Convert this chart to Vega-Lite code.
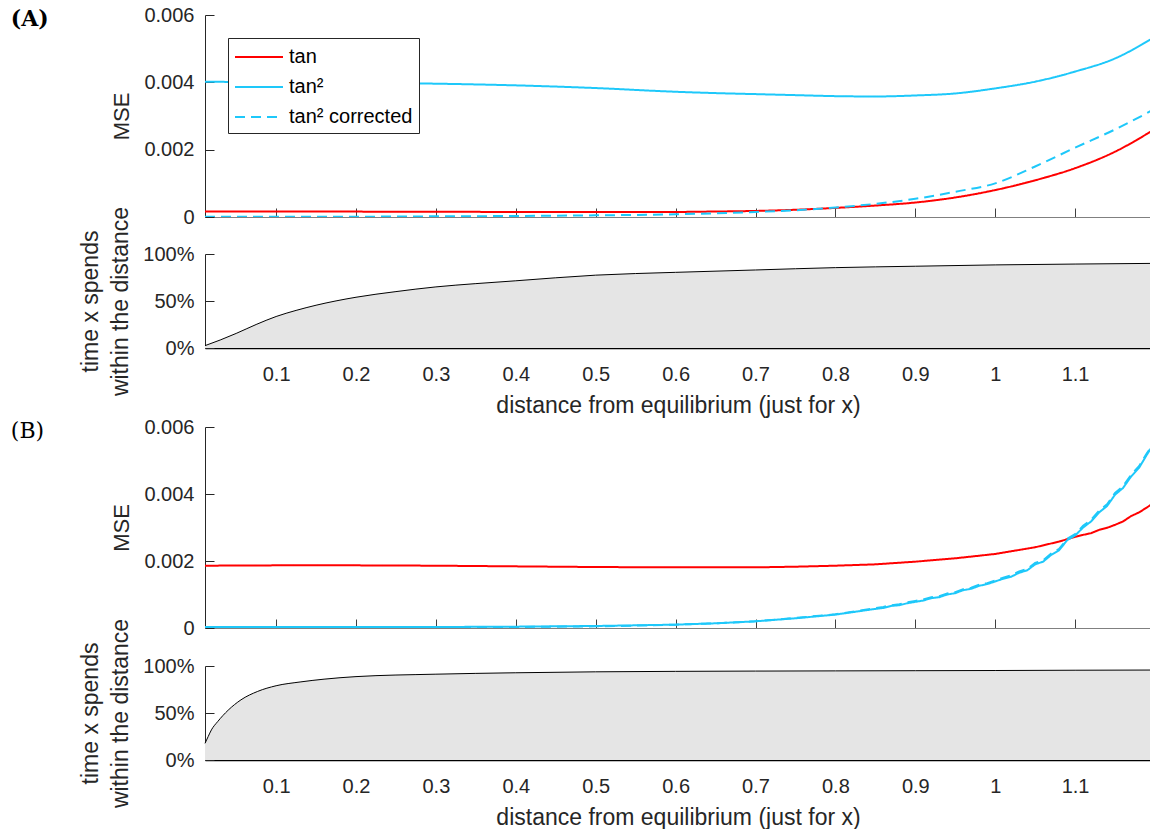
{
  "$schema": "https://vega.github.io/schema/vega-lite/v6.json",
  "background": "white",
  "padding": {"left": 10, "top": 5, "right": 0, "bottom": 0},
  "spacing": 0,
  "config": {
    "font": "Liberation Sans",
    "view": {"stroke": null},
    "axis": {
      "labelFont": "Liberation Sans", "labelFontSize": 20, "labelColor": "#262626",
      "titleFont": "Liberation Sans", "titleFontSize": 23, "titleColor": "#262626", "titleFontWeight": "normal",
      "grid": false, "tickSize": -9, "tickColor": "#262626", "domainColor": "#262626", "domainWidth": 1
    },
    "legend": {
      "orient": "top-left", "offset": 23, "title": null,
      "labelFont": "Liberation Sans", "labelFontSize": 20, "labelColor": "#000000",
      "symbolType": "M-1,0H3", "symbolSize": 576, "symbolStrokeWidth": 2,
      "strokeColor": "#262626", "fillColor": "white", "padding": 6, "rowPadding": 7, "labelOffset": 29, "cornerRadius": 0
    }
  },
  "datasets": {
    "mseA": [
      {"x": 0.011, "s": "tan", "v": 0.000165}, {"x": 0.05, "s": "tan", "v": 0.000165}, {"x": 0.1, "s": "tan", "v": 0.000163}, {"x": 0.2, "s": "tan", "v": 0.00016}, {"x": 0.3, "s": "tan", "v": 0.000155}, {"x": 0.4, "s": "tan", "v": 0.00015}, {"x": 0.5, "s": "tan", "v": 0.000145}, {"x": 0.6, "s": "tan", "v": 0.00015}, {"x": 0.65, "s": "tan", "v": 0.000163}, {"x": 0.7, "s": "tan", "v": 0.00018}, {"x": 0.75, "s": "tan", "v": 0.000215}, {"x": 0.8, "s": "tan", "v": 0.00027}, {"x": 0.85, "s": "tan", "v": 0.00034}, {"x": 0.9, "s": "tan", "v": 0.00043}, {"x": 0.95, "s": "tan", "v": 0.00058}, {"x": 1.0, "s": "tan", "v": 0.0008}, {"x": 1.05, "s": "tan", "v": 0.00109}, {"x": 1.1, "s": "tan", "v": 0.00145}, {"x": 1.15, "s": "tan", "v": 0.00194}, {"x": 1.195, "s": "tan", "v": 0.00254},
      {"x": 0.011, "s": "tan²", "v": 0.00402}, {"x": 0.05, "s": "tan²", "v": 0.00401}, {"x": 0.1, "s": "tan²", "v": 0.004}, {"x": 0.2, "s": "tan²", "v": 0.00399}, {"x": 0.3, "s": "tan²", "v": 0.00396}, {"x": 0.4, "s": "tan²", "v": 0.00391}, {"x": 0.5, "s": "tan²", "v": 0.00383}, {"x": 0.6, "s": "tan²", "v": 0.00372}, {"x": 0.65, "s": "tan²", "v": 0.00368}, {"x": 0.7, "s": "tan²", "v": 0.00365}, {"x": 0.75, "s": "tan²", "v": 0.00362}, {"x": 0.8, "s": "tan²", "v": 0.00359}, {"x": 0.85, "s": "tan²", "v": 0.00358}, {"x": 0.9, "s": "tan²", "v": 0.00361}, {"x": 0.95, "s": "tan²", "v": 0.00367}, {"x": 1.0, "s": "tan²", "v": 0.00382}, {"x": 1.05, "s": "tan²", "v": 0.00402}, {"x": 1.1, "s": "tan²", "v": 0.00432}, {"x": 1.15, "s": "tan²", "v": 0.00471}, {"x": 1.195, "s": "tan²", "v": 0.00528},
      {"x": 0.011, "s": "tan² corrected", "v": 0.00001}, {"x": 0.1, "s": "tan² corrected", "v": 0.00001}, {"x": 0.2, "s": "tan² corrected", "v": 0.00001}, {"x": 0.3, "s": "tan² corrected", "v": 0.00002}, {"x": 0.4, "s": "tan² corrected", "v": 0.00003}, {"x": 0.5, "s": "tan² corrected", "v": 0.00005}, {"x": 0.6, "s": "tan² corrected", "v": 0.00008}, {"x": 0.65, "s": "tan² corrected", "v": 0.00011}, {"x": 0.7, "s": "tan² corrected", "v": 0.00015}, {"x": 0.75, "s": "tan² corrected", "v": 0.0002}, {"x": 0.8, "s": "tan² corrected", "v": 0.00028}, {"x": 0.85, "s": "tan² corrected", "v": 0.00039}, {"x": 0.9, "s": "tan² corrected", "v": 0.00054}, {"x": 0.95, "s": "tan² corrected", "v": 0.00075}, {"x": 1.0, "s": "tan² corrected", "v": 0.001}, {"x": 1.05, "s": "tan² corrected", "v": 0.0015}, {"x": 1.1, "s": "tan² corrected", "v": 0.00206}, {"x": 1.15, "s": "tan² corrected", "v": 0.0026}, {"x": 1.195, "s": "tan² corrected", "v": 0.00315}
    ],
    "timeA": [
      {"x": 0.011, "p": 0.025}, {"x": 0.03, "p": 0.085}, {"x": 0.05, "p": 0.155}, {"x": 0.075, "p": 0.25}, {"x": 0.1, "p": 0.335}, {"x": 0.125, "p": 0.4}, {"x": 0.15, "p": 0.455}, {"x": 0.2, "p": 0.54}, {"x": 0.25, "p": 0.6}, {"x": 0.3, "p": 0.65}, {"x": 0.35, "p": 0.685}, {"x": 0.4, "p": 0.715}, {"x": 0.5, "p": 0.775}, {"x": 0.6, "p": 0.805}, {"x": 0.7, "p": 0.83}, {"x": 0.8, "p": 0.855}, {"x": 0.9, "p": 0.87}, {"x": 1.0, "p": 0.884}, {"x": 1.1, "p": 0.893}, {"x": 1.195, "p": 0.9}
    ],
    "mseB": [
      {"x": 0.011, "s": "tan", "v": 0.00186}, {"x": 0.1, "s": "tan", "v": 0.00187}, {"x": 0.2, "s": "tan", "v": 0.00187}, {"x": 0.3, "s": "tan", "v": 0.00186}, {"x": 0.4, "s": "tan", "v": 0.00184}, {"x": 0.5, "s": "tan", "v": 0.00182}, {"x": 0.6, "s": "tan", "v": 0.00181}, {"x": 0.7, "s": "tan", "v": 0.00181}, {"x": 0.75, "s": "tan", "v": 0.00183}, {"x": 0.8, "s": "tan", "v": 0.00186}, {"x": 0.85, "s": "tan", "v": 0.0019}, {"x": 0.9, "s": "tan", "v": 0.00198}, {"x": 0.95, "s": "tan", "v": 0.00208}, {"x": 1.0, "s": "tan", "v": 0.00221}, {"x": 1.05, "s": "tan", "v": 0.00241}, {"x": 1.08, "s": "tan", "v": 0.00258}, {"x": 1.1, "s": "tan", "v": 0.00272}, {"x": 1.11, "s": "tan", "v": 0.00278}, {"x": 1.12, "s": "tan", "v": 0.00283}, {"x": 1.13, "s": "tan", "v": 0.00293}, {"x": 1.14, "s": "tan", "v": 0.00299}, {"x": 1.15, "s": "tan", "v": 0.00308}, {"x": 1.16, "s": "tan", "v": 0.00318}, {"x": 1.17, "s": "tan", "v": 0.00334}, {"x": 1.18, "s": "tan", "v": 0.00345}, {"x": 1.19, "s": "tan", "v": 0.0036}, {"x": 1.195, "s": "tan", "v": 0.00368},
      {"x": 0.011, "s": "tan²", "v": 0.00003}, {"x": 0.1, "s": "tan²", "v": 0.00003}, {"x": 0.2, "s": "tan²", "v": 0.00003}, {"x": 0.3, "s": "tan²", "v": 0.00003}, {"x": 0.4, "s": "tan²", "v": 0.00004}, {"x": 0.5, "s": "tan²", "v": 0.00006}, {"x": 0.55, "s": "tan²", "v": 0.00008}, {"x": 0.6, "s": "tan²", "v": 0.0001}, {"x": 0.65, "s": "tan²", "v": 0.00014}, {"x": 0.7, "s": "tan²", "v": 0.0002}, {"x": 0.75, "s": "tan²", "v": 0.00029}, {"x": 0.8, "s": "tan²", "v": 0.0004}, {"x": 0.85, "s": "tan²", "v": 0.00057}, {"x": 0.86, "s": "tan²", "v": 0.0006}, {"x": 0.87, "s": "tan²", "v": 0.00066}, {"x": 0.88, "s": "tan²", "v": 0.00068}, {"x": 0.89, "s": "tan²", "v": 0.00074}, {"x": 0.9, "s": "tan²", "v": 0.00078}, {"x": 0.91, "s": "tan²", "v": 0.00082}, {"x": 0.92, "s": "tan²", "v": 0.00089}, {"x": 0.93, "s": "tan²", "v": 0.00092}, {"x": 0.94, "s": "tan²", "v": 0.001}, {"x": 0.95, "s": "tan²", "v": 0.00104}, {"x": 0.96, "s": "tan²", "v": 0.00113}, {"x": 0.97, "s": "tan²", "v": 0.00117}, {"x": 0.98, "s": "tan²", "v": 0.00126}, {"x": 0.99, "s": "tan²", "v": 0.00131}, {"x": 1.0, "s": "tan²", "v": 0.00139}, {"x": 1.01, "s": "tan²", "v": 0.00147}, {"x": 1.02, "s": "tan²", "v": 0.00153}, {"x": 1.03, "s": "tan²", "v": 0.00165}, {"x": 1.04, "s": "tan²", "v": 0.00172}, {"x": 1.05, "s": "tan²", "v": 0.0019}, {"x": 1.06, "s": "tan²", "v": 0.00198}, {"x": 1.07, "s": "tan²", "v": 0.00218}, {"x": 1.08, "s": "tan²", "v": 0.00232}, {"x": 1.09, "s": "tan²", "v": 0.00262}, {"x": 1.1, "s": "tan²", "v": 0.00276}, {"x": 1.11, "s": "tan²", "v": 0.003}, {"x": 1.12, "s": "tan²", "v": 0.00318}, {"x": 1.13, "s": "tan²", "v": 0.00345}, {"x": 1.14, "s": "tan²", "v": 0.00364}, {"x": 1.15, "s": "tan²", "v": 0.00398}, {"x": 1.16, "s": "tan²", "v": 0.00418}, {"x": 1.17, "s": "tan²", "v": 0.00452}, {"x": 1.18, "s": "tan²", "v": 0.00478}, {"x": 1.19, "s": "tan²", "v": 0.00518}, {"x": 1.195, "s": "tan²", "v": 0.00537},
      {"x": 0.011, "s": "tan² corrected", "v": 0.000005}, {"x": 0.1, "s": "tan² corrected", "v": 0.000005}, {"x": 0.2, "s": "tan² corrected", "v": 0.000008}, {"x": 0.3, "s": "tan² corrected", "v": 0.00001}, {"x": 0.4, "s": "tan² corrected", "v": 0.00003}, {"x": 0.5, "s": "tan² corrected", "v": 0.00005}, {"x": 0.55, "s": "tan² corrected", "v": 0.00007}, {"x": 0.6, "s": "tan² corrected", "v": 0.0001}, {"x": 0.65, "s": "tan² corrected", "v": 0.00014}, {"x": 0.7, "s": "tan² corrected", "v": 0.0002}, {"x": 0.75, "s": "tan² corrected", "v": 0.0003}, {"x": 0.8, "s": "tan² corrected", "v": 0.00041}, {"x": 0.85, "s": "tan² corrected", "v": 0.00059}, {"x": 0.86, "s": "tan² corrected", "v": 0.00063}, {"x": 0.87, "s": "tan² corrected", "v": 0.00068}, {"x": 0.88, "s": "tan² corrected", "v": 0.00071}, {"x": 0.89, "s": "tan² corrected", "v": 0.00077}, {"x": 0.9, "s": "tan² corrected", "v": 0.00081}, {"x": 0.91, "s": "tan² corrected", "v": 0.00085}, {"x": 0.92, "s": "tan² corrected", "v": 0.00092}, {"x": 0.93, "s": "tan² corrected", "v": 0.00095}, {"x": 0.94, "s": "tan² corrected", "v": 0.00103}, {"x": 0.95, "s": "tan² corrected", "v": 0.00107}, {"x": 0.96, "s": "tan² corrected", "v": 0.00116}, {"x": 0.97, "s": "tan² corrected", "v": 0.0012}, {"x": 0.98, "s": "tan² corrected", "v": 0.00129}, {"x": 0.99, "s": "tan² corrected", "v": 0.00134}, {"x": 1.0, "s": "tan² corrected", "v": 0.00142}, {"x": 1.01, "s": "tan² corrected", "v": 0.0015}, {"x": 1.02, "s": "tan² corrected", "v": 0.00157}, {"x": 1.03, "s": "tan² corrected", "v": 0.00169}, {"x": 1.04, "s": "tan² corrected", "v": 0.00176}, {"x": 1.05, "s": "tan² corrected", "v": 0.00194}, {"x": 1.06, "s": "tan² corrected", "v": 0.00202}, {"x": 1.07, "s": "tan² corrected", "v": 0.00222}, {"x": 1.08, "s": "tan² corrected", "v": 0.00236}, {"x": 1.09, "s": "tan² corrected", "v": 0.00266}, {"x": 1.1, "s": "tan² corrected", "v": 0.0028}, {"x": 1.11, "s": "tan² corrected", "v": 0.00305}, {"x": 1.12, "s": "tan² corrected", "v": 0.00323}, {"x": 1.13, "s": "tan² corrected", "v": 0.0035}, {"x": 1.14, "s": "tan² corrected", "v": 0.00369}, {"x": 1.15, "s": "tan² corrected", "v": 0.00403}, {"x": 1.16, "s": "tan² corrected", "v": 0.00423}, {"x": 1.17, "s": "tan² corrected", "v": 0.00457}, {"x": 1.18, "s": "tan² corrected", "v": 0.00483}, {"x": 1.19, "s": "tan² corrected", "v": 0.00522}, {"x": 1.195, "s": "tan² corrected", "v": 0.0054}
    ],
    "timeB": [
      {"x": 0.011, "p": 0.177}, {"x": 0.015, "p": 0.25}, {"x": 0.019, "p": 0.32}, {"x": 0.027, "p": 0.41}, {"x": 0.04, "p": 0.53}, {"x": 0.056, "p": 0.64}, {"x": 0.077, "p": 0.73}, {"x": 0.1, "p": 0.79}, {"x": 0.13, "p": 0.83}, {"x": 0.16, "p": 0.86}, {"x": 0.2, "p": 0.887}, {"x": 0.3, "p": 0.913}, {"x": 0.4, "p": 0.928}, {"x": 0.5, "p": 0.938}, {"x": 0.6, "p": 0.943}, {"x": 0.7, "p": 0.946}, {"x": 0.8, "p": 0.948}, {"x": 0.9, "p": 0.95}, {"x": 1.0, "p": 0.952}, {"x": 1.1, "p": 0.955}, {"x": 1.195, "p": 0.957}
    ]
  },
  "vconcat": [
    {
      "title": {"text": "(A)", "font": "DejaVu Serif", "fontSize": 22, "fontWeight": "bold", "color": "#000000", "anchor": "start", "frame": "bounds", "offset": 0, "dx": -69, "dy": 26},
      "bounds": "flush",
      "spacing": 37,
      "vconcat": [
        {
          "width": 946, "height": 202,
          "data": {"name": "mseA"},
          "mark": {"type": "line", "strokeWidth": 2, "clip": true, "interpolate": "monotone"},
          "encoding": {
            "x": {"field": "x", "type": "quantitative", "scale": {"domain": [0.011, 1.195], "nice": false, "zero": false}, "axis": {"values": [0.1, 0.2, 0.3, 0.4, 0.5, 0.6, 0.7, 0.8, 0.9, 1.0, 1.1], "labels": false, "title": null, "domainColor": "#808080", "tickColor": "#404040"}},
            "y": {"field": "v", "type": "quantitative", "scale": {"domain": [0, 0.006], "nice": false}, "axis": {"values": [0, 0.002, 0.004, 0.006], "format": ".3~f", "title": "MSE", "titleFontSize": 22, "labelPadding": 20, "titlePadding": 10}},
            "color": {"field": "s", "type": "nominal", "scale": {"domain": ["tan", "tan²", "tan² corrected"], "range": ["#ff0000", "#1ec8fa", "#1ec8fa"]}, "legend": {"title": null}},
            "strokeDash": {"field": "s", "type": "nominal", "scale": {"domain": ["tan", "tan²", "tan² corrected"], "range": [[1, 0], [1, 0], [10, 6]]}, "legend": {"title": null}}
          }
        },
        {
          "width": 946, "height": 94,
          "data": {"name": "timeA"},
          "encoding": {
            "x": {"field": "x", "type": "quantitative", "scale": {"domain": [0.011, 1.195], "nice": false, "zero": false}, "axis": {"values": [0.1, 0.2, 0.3, 0.4, 0.5, 0.6, 0.7, 0.8, 0.9, 1.0, 1.1], "format": "~g", "title": "distance from equilibrium (just for x)", "domainColor": "#000000", "domainWidth": 1.5, "tickColor": "#d0d0d0", "tickSize": -5, "labelPadding": 21, "titlePadding": 10}},
            "y": {"field": "p", "type": "quantitative", "scale": {"domain": [0, 1], "nice": false}, "axis": {"values": [0, 0.5, 1], "format": ".0%", "title": ["time x spends", "within the distance"], "titleLineHeight": 30, "labelPadding": 20, "titlePadding": 10}}
          },
          "layer": [
            {"mark": {"type": "area", "color": "#e5e5e5", "interpolate": "monotone"}},
            {"mark": {"type": "line", "color": "#000000", "strokeWidth": 1, "interpolate": "monotone"}}
          ]
        }
      ]
    },
    {
      "title": {"text": "(B)", "font": "DejaVu Serif", "fontSize": 22, "fontWeight": "normal", "color": "#000000", "anchor": "start", "frame": "bounds", "offset": 0, "dx": -69, "dy": 26},
      "bounds": "flush",
      "spacing": 38,
      "vconcat": [
        {
          "width": 946, "height": 201,
          "data": {"name": "mseB"},
          "mark": {"type": "line", "strokeWidth": 2, "clip": true},
          "encoding": {
            "x": {"field": "x", "type": "quantitative", "scale": {"domain": [0.011, 1.195], "nice": false, "zero": false}, "axis": {"values": [0.1, 0.2, 0.3, 0.4, 0.5, 0.6, 0.7, 0.8, 0.9, 1.0, 1.1], "labels": false, "title": null, "domainColor": "#808080", "tickColor": "#404040"}},
            "y": {"field": "v", "type": "quantitative", "scale": {"domain": [0, 0.006], "nice": false}, "axis": {"values": [0, 0.002, 0.004, 0.006], "format": ".3~f", "title": "MSE", "titleFontSize": 22, "labelPadding": 20, "titlePadding": 10}},
            "color": {"field": "s", "type": "nominal", "scale": {"domain": ["tan", "tan²", "tan² corrected"], "range": ["#ff0000", "#1ec8fa", "#1ec8fa"]}, "legend": {"title": null}},
            "strokeDash": {"field": "s", "type": "nominal", "scale": {"domain": ["tan", "tan²", "tan² corrected"], "range": [[1, 0], [1, 0], [10, 6]]}, "legend": {"title": null}}
          }
        },
        {
          "width": 946, "height": 94,
          "data": {"name": "timeB"},
          "encoding": {
            "x": {"field": "x", "type": "quantitative", "scale": {"domain": [0.011, 1.195], "nice": false, "zero": false}, "axis": {"values": [0.1, 0.2, 0.3, 0.4, 0.5, 0.6, 0.7, 0.8, 0.9, 1.0, 1.1], "format": "~g", "title": "distance from equilibrium (just for x)", "domainColor": "#000000", "domainWidth": 1.5, "tickColor": "#d0d0d0", "tickSize": -5, "labelPadding": 21, "titlePadding": 10}},
            "y": {"field": "p", "type": "quantitative", "scale": {"domain": [0, 1], "nice": false}, "axis": {"values": [0, 0.5, 1], "format": ".0%", "title": ["time x spends", "within the distance"], "titleLineHeight": 30, "labelPadding": 20, "titlePadding": 10}}
          },
          "layer": [
            {"mark": {"type": "area", "color": "#e5e5e5", "interpolate": "monotone"}},
            {"mark": {"type": "line", "color": "#000000", "strokeWidth": 1, "interpolate": "monotone"}}
          ]
        }
      ]
    }
  ]
}
